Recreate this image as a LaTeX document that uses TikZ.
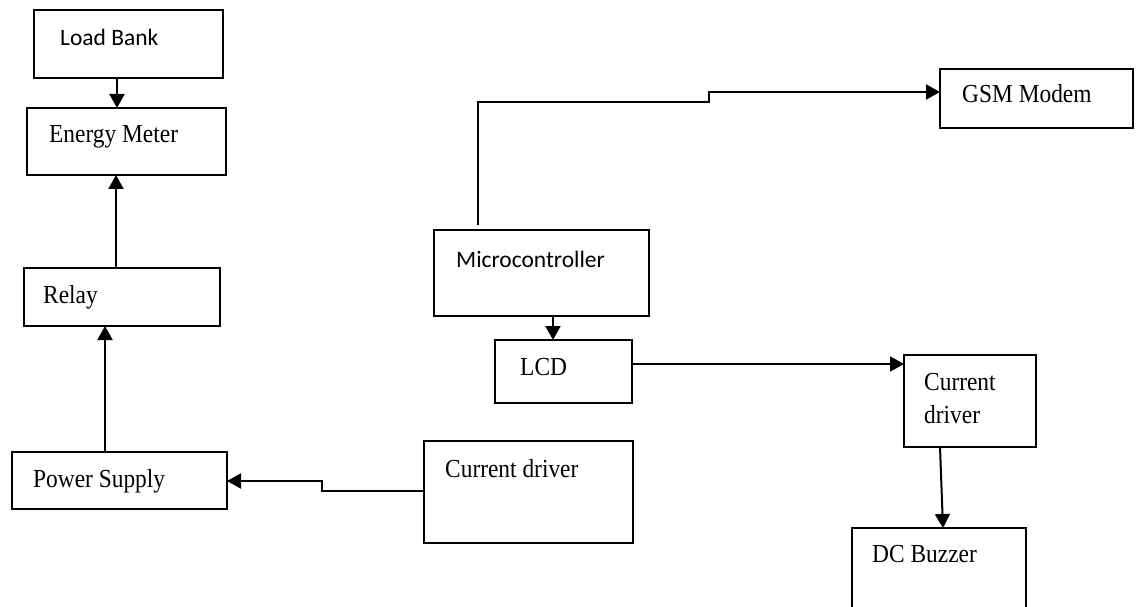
\documentclass[tikz,border=0pt]{standalone}
\usepackage{fontspec}
\setmainfont{Liberation Serif}[FakeStretch=0.9]
\newfontfamily\calfont{Carlito}
\usetikzlibrary{arrows.meta}
\tikzset{
  box/.style={draw=black, line width=1.6pt, rectangle, inner sep=0pt, outer sep=0pt, anchor=north west},
  lbl/.style={anchor=base west, inner sep=0pt, font=\fontsize{26}{33}\selectfont},
  slbl/.style={lbl, font=\fontsize{23.5}{33}\selectfont\calfont},
  arr/.style={line width=2pt, -{Triangle[length=14pt,width=15pt]}},
  wire/.style={line width=2pt}
}
\begin{document}
\begin{tikzpicture}[x=1pt,y=-1pt]
\useasboundingbox (0,0) rectangle (1144,607);
\clip (0,0) rectangle (1144,607);
% boxes
\node[box, minimum width=189pt, minimum height=68pt] (lb) at (34,10) {};
\node[box, minimum width=199pt, minimum height=67pt] (em) at (27,108) {};
\node[box, minimum width=196pt, minimum height=58pt] (rl) at (24,268) {};
\node[box, minimum width=215pt, minimum height=57pt] (ps) at (12,452) {};
\node[box, minimum width=209pt, minimum height=102pt] (cda) at (424,441) {};
\node[box, minimum width=215pt, minimum height=86pt] (mc) at (434,230) {};
\node[box, minimum width=137pt, minimum height=63pt] (lcd) at (495,340) {};
\node[box, minimum width=193pt, minimum height=59pt] (gsm) at (940,69) {};
\node[box, minimum width=132pt, minimum height=92pt] (cdb) at (904,355) {};
\node[box, minimum width=174pt, minimum height=110pt] (dcb) at (852,528) {};
% labels
\node[slbl] (tlb) at (60,46) {Load Bank};
\node[lbl] (tem) at (49,143) {Energy Meter};
\node[lbl] (trl) at (43,303) {Relay};
\node[lbl] (tps) at (33,487) {Power Supply};
\node[lbl] (tcda) at (445,477) {Current driver};
\node[slbl] (tmc) at (456,267) {Microcontroller};
\node[lbl] (tlcd) at (520,375) {LCD};
\node[lbl] (tgsm) at (962,103) {GSM Modem};
\node[lbl] (tcdb1) at (924,390) {Current};
\node[lbl] (tcdb2) at (924,423) {driver};
\node[lbl] (tdcb) at (872,562) {DC Buzzer};
% connectors
\draw[arr] (lb.south -| 117,0) -- (em.north -| 117,0);
\draw[arr] (rl.north -| 116,0) -- (em.south -| 116,0);
\draw[arr] (ps.north -| 105,0) -- (rl.south -| 105,0);
\draw[arr] (cda.west |- 0,491) -- (322,491) -- (322,481) -- (ps.east |- 0,481);
\draw[arr] ([yshift=5pt]mc.north -| 478,0) -- (478,102) -- (709,102) -- (709,92) -- (gsm.west |- 0,92);
\draw[arr] (mc.south -| 553,0) -- (lcd.north -| 553,0);
\draw[arr] (lcd.east |- 0,364) -- (cdb.west |- 0,364);
\draw[arr] (cdb.south -| 940,0) -- (dcb.north -| 943,0);
\end{tikzpicture}
\end{document}
